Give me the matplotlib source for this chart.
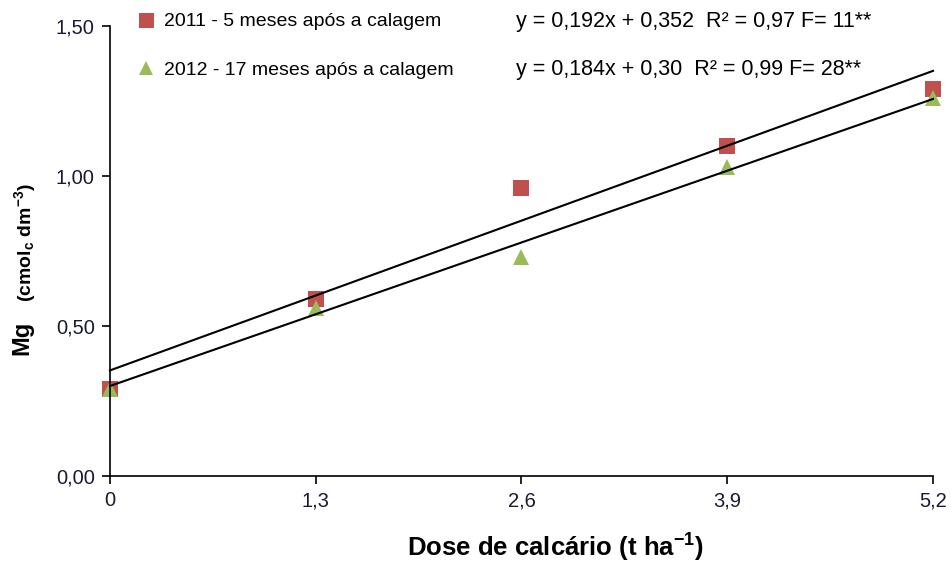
import numpy as np
import matplotlib.pyplot as plt

plt.rcParams['font.family'] = ['Liberation Sans', 'DejaVu Sans']
plt.rcParams['mathtext.default'] = 'regular'

# Data
dose = [0, 1.3, 2.6, 3.9, 5.2]
mg_2011 = [0.29, 0.59, 0.96, 1.10, 1.29]
mg_2012 = [0.29, 0.56, 0.73, 1.03, 1.26]

# Fitted equations
fit_2011 = (0.192, 0.352)
fit_2012 = (0.184, 0.30)
eq_2011 = "y = 0,192x + 0,352  R² = 0,97 F= 11**"
eq_2012 = "y = 0,184x + 0,30  R² = 0,99 F= 28**"
lab_2011 = "2011 - 5 meses após a calagem"
lab_2012 = "2012 - 17 meses após a calagem"

x_ticks = [0, 1.3, 2.6, 3.9, 5.2]
x_labels = ["0", "1,3", "2,6", "3,9", "5,2"]
y_ticks = [0, 0.5, 1.0, 1.5]
y_labels = ["0,00", "0,50", "1,00", "1,50"]

red = '#C0504D'
green = '#9BBB59'

fig = plt.figure(figsize=(9.53, 5.64), dpi=100)
ax = fig.add_axes([110/953, 1-476/564, (933-110)/953, (476-26)/564])

xx = np.array([0, 5.2])
ax.plot(xx, fit_2011[0]*xx + fit_2011[1], color='black', lw=1.5, clip_on=False, zorder=3)
ax.plot(xx, fit_2012[0]*xx + fit_2012[1], color='black', lw=1.5, clip_on=False, zorder=3)

h1, = ax.plot(dose, mg_2011, 's', color=red, ms=12, mew=0, clip_on=False, zorder=2, label=lab_2011)
h2, = ax.plot(dose, mg_2012, '^', color=green, ms=11, mew=0, clip_on=False, zorder=2, label=lab_2012)

ax.set_xlim(0, 5.2)
ax.set_ylim(0, 1.5)
ax.set_xticks(x_ticks)
ax.set_xticklabels(x_labels)
ax.set_yticks(y_ticks)
ax.set_yticklabels(y_labels)
ax.tick_params(direction='out', length=6, width=1.2, labelsize=14.5, pad=5, labelcolor='#1a1a33')
for s in ['top', 'right']:
    ax.spines[s].set_visible(False)
for s in ['left', 'bottom']:
    ax.spines[s].set_linewidth(1.2)

ax.set_xlabel("Dose de calcário (t ha$^{-1}$)", fontsize=18.5, fontweight='bold')
ax.xaxis.set_label_coords((555-110)/823, (476-532)/450)

# y label in two pieces
fig.text(22/953, 1-355/564, "Mg", rotation=90, ha='center', va='bottom',
         fontsize=17, fontweight='bold')
fig.text(25/953, 1-302/564, "(cmol$_{c}$ dm$^{-3}$)", rotation=90,
         ha='center', va='bottom', fontsize=14, fontweight='bold')

leg = fig.legend(handles=[h1, h2], loc='upper left', bbox_to_anchor=(127/953, 1-5/564),
                 frameon=False, fontsize=14, labelspacing=1.6, handletextpad=0.3,
                 handlelength=1.2, borderaxespad=0, markerscale=0.9)

fig.text(516/953, 1-21/564, eq_2011, ha='left', va='center', fontsize=15.5)
fig.text(516/953, 1-69/564, eq_2012, ha='left', va='center', fontsize=15.5)

fig.savefig('out.png', dpi=100)
